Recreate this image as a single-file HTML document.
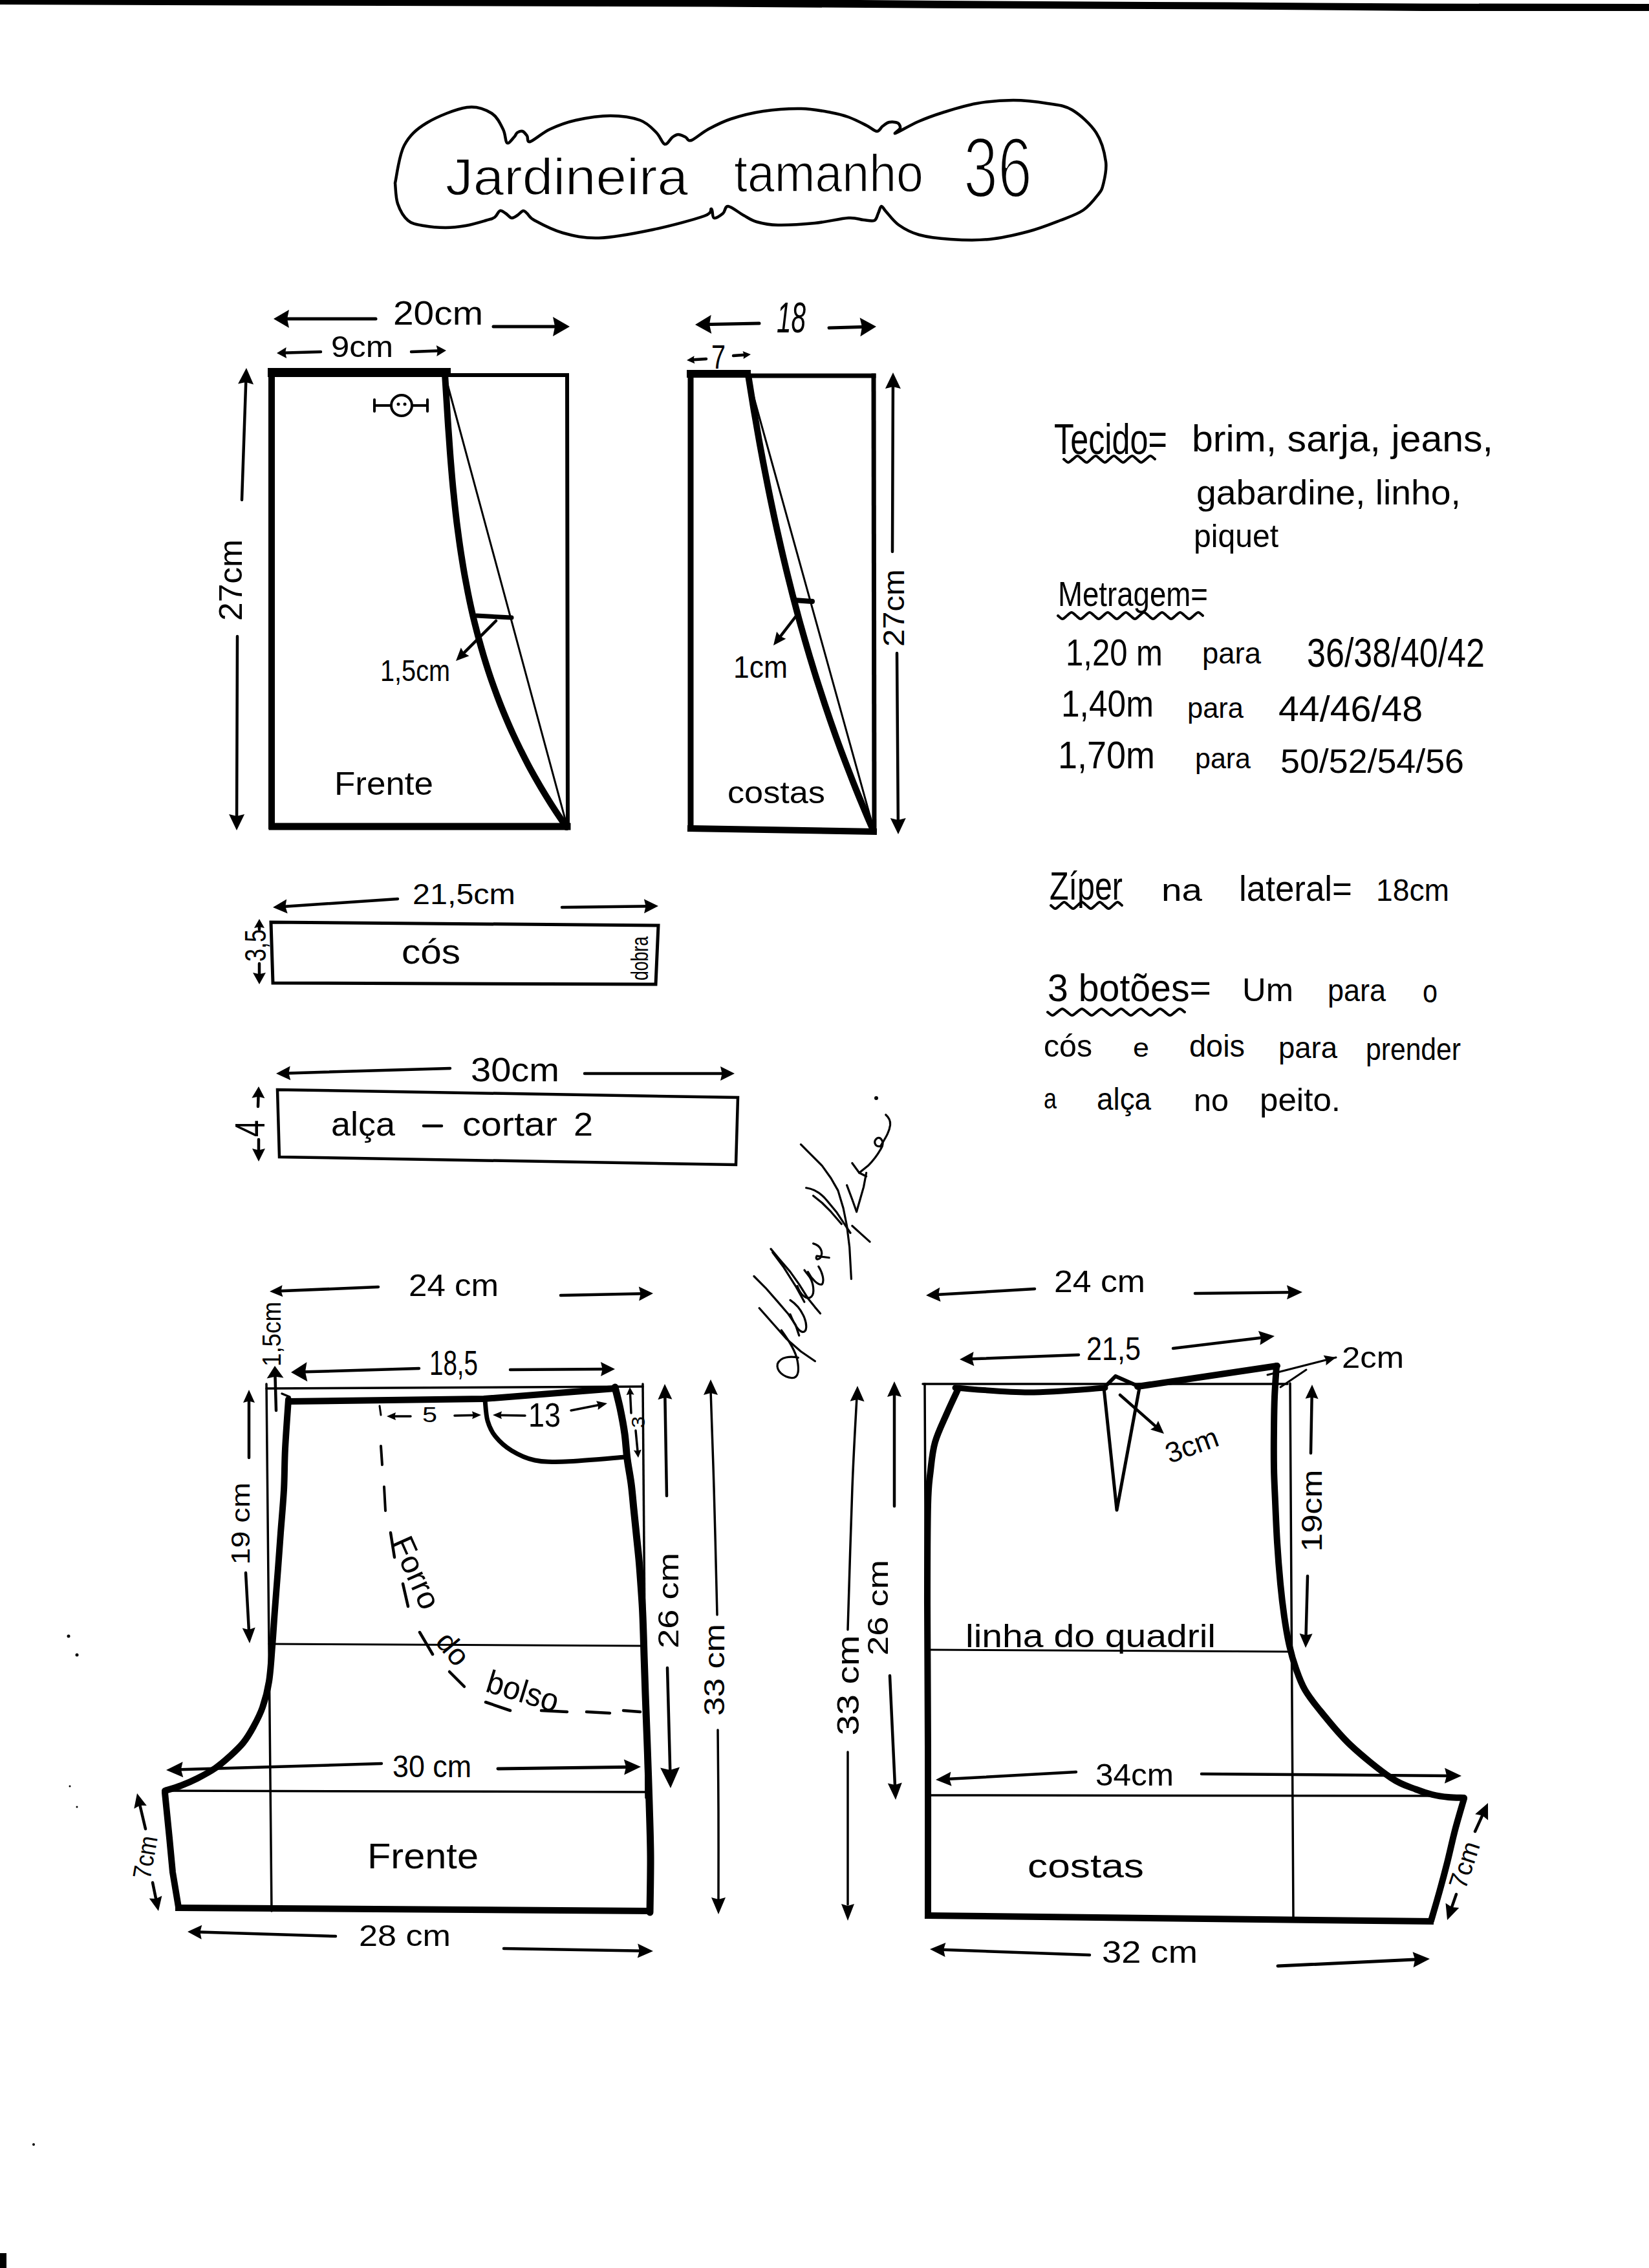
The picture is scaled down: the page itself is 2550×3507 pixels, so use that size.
<!DOCTYPE html>
<html><head><meta charset="utf-8"><style>
html,body{margin:0;padding:0;background:#fff;}
svg{display:block;}
text{fill:#000;stroke:none;}
</style></head><body>
<svg width="2550" height="3507" viewBox="0 0 2550 3507">
<rect width="2550" height="3507" fill="#fff"/>
<g stroke="#000" fill="none" stroke-linecap="round" stroke-linejoin="round">
<polygon points="0,0 1330,0 1450,1 1900,3.6 2200,5.5 2550,6 2550,17 2200,17 1900,14.5 1450,12.7 1100,10.6 400,8.5 0,7" fill="#000" stroke="none"/>
<path d="M611,283 C613.3,273.3 616.8,240.5 625,225 C633.2,209.5 643.8,199.8 660,190 C676.2,180.2 705.3,168.5 722,166 C738.7,163.5 750.7,169.3 760,175 C769.3,180.7 774.0,192.3 778,200 C782.0,207.7 781.2,219.0 784,221 C786.8,223.0 792.3,214.7 795,212 C797.7,209.3 797.8,206.5 800,205 C802.2,203.5 805.5,202.2 808,203 C810.5,203.8 813.0,207.3 815,210 C817.0,212.7 814.2,220.7 820,219 C825.8,217.3 838.3,205.5 850,200 C861.7,194.5 874.3,189.5 890,186 C905.7,182.5 927.3,179.0 944,179 C960.7,179.0 978.2,181.7 990,186 C1001.8,190.3 1008.7,198.8 1015,205 C1021.3,211.2 1023.8,221.8 1028,223 C1032.2,224.2 1036.5,214.5 1040,212 C1043.5,209.5 1045.7,208.0 1049,208 C1052.3,208.0 1056.7,210.5 1060,212 C1063.3,213.5 1063.2,219.0 1069,217 C1074.8,215.0 1084.8,205.5 1095,200 C1105.2,194.5 1115.8,188.7 1130,184 C1144.2,179.3 1161.8,174.7 1180,172 C1198.2,169.3 1221.5,167.7 1239,168 C1256.5,168.3 1272.8,171.8 1285,174 C1297.2,176.2 1302.8,177.7 1312,181 C1321.2,184.3 1332.7,190.3 1340,194 C1347.3,197.7 1351.8,202.8 1356,203 C1360.2,203.2 1361.8,197.3 1365,195 C1368.2,192.7 1371.2,189.8 1375,189 C1378.8,188.2 1385.2,188.5 1388,190 C1390.8,191.5 1392.5,195.3 1392,198 C1391.5,200.7 1380.3,207.7 1385,206 C1389.7,204.3 1407.8,193.3 1420,188 C1432.2,182.7 1443.0,178.7 1458,174 C1473.0,169.3 1491.8,163.2 1510,160 C1528.2,156.8 1548.7,155.0 1567,155 C1585.3,155.0 1604.8,157.5 1620,160 C1635.2,162.5 1645.5,162.5 1658,170 C1670.5,177.5 1686.3,191.7 1695,205 C1703.7,218.3 1708.2,236.7 1710,250 C1711.8,263.3 1708.0,276.5 1706,285 C1704.0,293.5 1703.2,294.3 1698,301 C1692.8,307.7 1684.8,318.3 1675,325 C1665.2,331.7 1653.2,335.5 1639,341 C1624.8,346.5 1608.2,353.2 1590,358 C1571.8,362.8 1550.0,368.0 1530,370 C1510.0,372.0 1488.2,371.2 1470,370 C1451.8,368.8 1434.3,366.7 1421,363 C1407.7,359.3 1398.5,354.0 1390,348 C1381.5,342.0 1374.5,331.8 1370,327 C1365.5,322.2 1365.0,318.5 1363,319 C1361.0,319.5 1359.8,326.3 1358,330 C1356.2,333.7 1355.8,339.3 1352,341 C1348.2,342.7 1341.7,340.7 1335,340 C1328.3,339.3 1324.5,336.2 1312,337 C1299.5,337.8 1278.2,343.2 1260,345 C1241.8,346.8 1218.0,348.3 1203,348 C1188.0,347.7 1178.8,345.5 1170,343 C1161.2,340.5 1157.3,337.0 1150,333 C1142.7,329.0 1131.3,319.5 1126,319 C1120.7,318.5 1121.7,327.0 1118,330 C1114.3,333.0 1107.0,338.2 1104,337 C1101.0,335.8 1102.5,323.5 1100,323 C1097.5,322.5 1104.0,328.7 1089,334 C1074.0,339.3 1037.2,349.3 1010,355 C982.8,360.7 949.3,367.2 926,368 C902.7,368.8 886.5,364.5 870,360 C853.5,355.5 836.2,346.0 827,341 C817.8,336.0 818.0,332.5 815,330 C812.0,327.5 811.5,325.5 809,326 C806.5,326.5 803.0,331.2 800,333 C797.0,334.8 794.0,337.5 791,337 C788.0,336.5 785.0,331.8 782,330 C779.0,328.2 775.8,325.0 773,326 C770.2,327.0 768.7,333.5 765,336 C761.3,338.5 758.5,338.8 751,341 C743.5,343.2 730.3,347.2 720,349 C709.7,350.8 699.8,352.0 689,352 C678.2,352.0 664.7,350.8 655,349 C645.3,347.2 637.7,346.7 631,341 C624.3,335.3 618.3,324.7 615,315 C611.7,305.3 611.7,288.3 611,283" stroke-width="4.5" fill="none" />
<text x="689" y="301" font-size="80" textLength="375" lengthAdjust="spacingAndGlyphs" font-family="Liberation Sans" style="stroke:#fff;stroke-width:1.40px">Jardineira</text>
<text x="1135" y="296" font-size="82" textLength="293" lengthAdjust="spacingAndGlyphs" font-family="Liberation Sans" style="stroke:#fff;stroke-width:1.56px">tamanho</text>
<text x="1490" y="305" font-size="132" textLength="106" lengthAdjust="spacingAndGlyphs" font-family="Liberation Sans" style="stroke:#fff;stroke-width:3.77px">36</text>
<line x1="420" y1="577" x2="420" y2="1277" stroke-width="10" stroke-linecap="square"/>
<line x1="421" y1="576" x2="690" y2="576" stroke-width="14" stroke-linecap="square"/>
<line x1="694" y1="580" x2="877" y2="580" stroke-width="6" stroke-linecap="square"/>
<line x1="877" y1="580" x2="878" y2="1280" stroke-width="6" stroke-linecap="square"/>
<line x1="421" y1="1278" x2="877" y2="1278" stroke-width="11" stroke-linecap="square"/>
<path d="M688.0,578.0 C688.2,582.0 689.0,594.2 689.5,602.2 C690.0,610.2 690.5,618.2 691.0,626.3 C691.5,634.3 692.0,642.4 692.5,650.5 C693.0,658.6 693.6,666.6 694.2,674.7 C694.8,682.8 695.3,690.9 695.9,698.9 C696.5,706.9 697.1,715.0 697.8,723.0 C698.5,731.0 699.1,739.1 699.9,747.2 C700.6,755.3 701.5,763.3 702.3,771.4 C703.1,779.5 704.0,787.5 704.9,795.6 C705.8,803.7 706.8,811.7 707.9,819.7 C709.0,827.8 710.0,835.8 711.2,843.9 C712.4,852.0 713.6,860.0 714.9,868.1 C716.2,876.2 717.5,884.2 719.0,892.2 C720.5,900.2 722.0,908.3 723.6,916.4 C725.2,924.5 726.9,932.5 728.7,940.6 C730.5,948.7 732.4,956.8 734.4,964.8 C736.4,972.8 738.5,980.8 740.7,988.9 C742.9,997.0 745.2,1005.0 747.6,1013.1 C750.0,1021.2 752.5,1029.2 755.1,1037.3 C757.7,1045.3 760.5,1053.4 763.4,1061.4 C766.3,1069.5 769.3,1077.5 772.4,1085.6 C775.5,1093.7 778.8,1101.7 782.2,1109.8 C785.6,1117.9 789.1,1126.0 792.8,1134.0 C796.5,1142.0 800.3,1150.0 804.3,1158.1 C808.3,1166.1 812.3,1174.2 816.6,1182.3 C820.9,1190.4 825.4,1198.4 830.0,1206.5 C834.6,1214.6 839.4,1222.7 844.3,1230.7 C849.2,1238.8 854.3,1246.8 859.6,1254.8 C864.9,1262.8 873.3,1275.0 876.0,1279.0" stroke-width="10" fill="none" />
<line x1="689" y1="583" x2="877" y2="1278" stroke-width="3"/>
<line x1="737" y1="952" x2="791" y2="955" stroke-width="7"/>
<line x1="767" y1="960" x2="712.0710678118655" y2="1014.9289321881345" stroke-width="4.5"/>
<polygon points="705,1022 712.8,1001.5 717.4,1009.6 725.5,1014.2" fill="#000" stroke="none"/>
<text x="588" y="1053" font-size="46" textLength="108" lengthAdjust="spacingAndGlyphs" font-family="Liberation Sans">1,5cm</text>
<text x="517" y="1229" font-size="50" textLength="153" lengthAdjust="spacingAndGlyphs" font-family="Liberation Sans">Frente</text>
<circle cx="621" cy="627" r="16" stroke-width="4"/>
<line x1="579" y1="627" x2="605" y2="627" stroke-width="4"/>
<line x1="637" y1="627" x2="661" y2="627" stroke-width="4"/>
<line x1="579" y1="618" x2="579" y2="636" stroke-width="4"/>
<line x1="661" y1="618" x2="661" y2="636" stroke-width="4"/>
<circle cx="616" cy="625" r="2.5" fill="#000" stroke="none"/><circle cx="626" cy="625" r="2.5" fill="#000" stroke="none"/>
<line x1="581" y1="493" x2="435.0" y2="493.0" stroke-width="5"/>
<polygon points="423,493 447.0,479.0 444.1,493.0 447.0,507.0" fill="#000" stroke="none"/>
<text x="608" y="502" font-size="52" textLength="139" lengthAdjust="spacingAndGlyphs" font-family="Liberation Sans">20cm</text>
<line x1="763" y1="505" x2="868.0" y2="505.0" stroke-width="5"/>
<polygon points="881,505 855.0,520.0 858.1,505.0 855.0,490.0" fill="#000" stroke="none"/>
<line x1="496" y1="544" x2="435.49675815848263" y2="545.7795071129858" stroke-width="4.5"/>
<polygon points="428,546 442.7,537.1 441.2,545.6 443.2,554.1" fill="#000" stroke="none"/>
<text x="512" y="552" font-size="46" textLength="96" lengthAdjust="spacingAndGlyphs" font-family="Liberation Sans">9cm</text>
<line x1="636" y1="544" x2="682.5051387467493" y2="542.2775874538241" stroke-width="4.5"/>
<polygon points="690,542 675.3,551.0 676.8,542.5 674.7,534.1" fill="#000" stroke="none"/>
<line x1="374" y1="773" x2="380.57133072154164" y2="581.4926475436437" stroke-width="4.5"/>
<polygon points="381,569 392.1,594.4 380.2,591.0 368.1,593.6" fill="#000" stroke="none"/>
<g transform="rotate(-90 357 897)"><text x="294.0" y="913.5" font-size="50" textLength="126" lengthAdjust="spacingAndGlyphs" font-family="Liberation Sans">27cm</text></g>
<line x1="367" y1="984" x2="366.0416664351871" y2="1271.5000694438656" stroke-width="4.5"/>
<polygon points="366,1284 354.1,1259.0 366.1,1262.0 378.1,1259.0" fill="#000" stroke="none"/>
<line x1="1068" y1="580" x2="1068" y2="1280" stroke-width="9" stroke-linecap="square"/>
<line x1="1068" y1="578" x2="1155" y2="578" stroke-width="12" stroke-linecap="square"/>
<line x1="1161" y1="581" x2="1351" y2="581" stroke-width="7" stroke-linecap="square"/>
<line x1="1351" y1="581" x2="1352" y2="1284" stroke-width="7" stroke-linecap="square"/>
<line x1="1068" y1="1281" x2="1351" y2="1286" stroke-width="10" stroke-linecap="square"/>
<path d="M1157.0,580.0 C1157.7,584.0 1159.6,596.1 1160.9,604.2 C1162.2,612.3 1163.5,620.4 1164.8,628.5 C1166.1,636.6 1167.6,644.6 1169.0,652.7 C1170.4,660.8 1171.8,668.9 1173.2,677.0 C1174.6,685.1 1176.1,693.1 1177.6,701.2 C1179.1,709.3 1180.6,717.3 1182.2,725.4 C1183.8,733.5 1185.4,741.6 1187.0,749.7 C1188.6,757.8 1190.2,765.8 1191.9,773.9 C1193.6,782.0 1195.3,790.1 1197.0,798.2 C1198.7,806.3 1200.5,814.3 1202.3,822.4 C1204.1,830.5 1205.9,838.6 1207.8,846.7 C1209.7,854.8 1211.6,862.8 1213.5,870.9 C1215.4,879.0 1217.4,887.0 1219.4,895.1 C1221.4,903.2 1223.4,911.3 1225.5,919.4 C1227.6,927.5 1229.7,935.5 1231.9,943.6 C1234.1,951.7 1236.2,959.8 1238.5,967.9 C1240.8,976.0 1243.1,984.0 1245.4,992.1 C1247.7,1000.2 1250.1,1008.2 1252.5,1016.3 C1254.9,1024.4 1257.4,1032.5 1259.9,1040.6 C1262.4,1048.7 1265.0,1056.7 1267.6,1064.8 C1270.2,1072.9 1272.8,1081.0 1275.5,1089.1 C1278.2,1097.2 1280.9,1105.2 1283.7,1113.3 C1286.5,1121.4 1289.3,1129.5 1292.2,1137.6 C1295.1,1145.7 1298.0,1153.7 1301.0,1161.8 C1304.0,1169.9 1307.1,1177.9 1310.2,1186.0 C1313.3,1194.1 1316.4,1202.2 1319.6,1210.3 C1322.8,1218.4 1326.1,1226.4 1329.4,1234.5 C1332.7,1242.6 1336.1,1250.7 1339.5,1258.8 C1342.9,1266.9 1348.2,1279.0 1350.0,1283.0" stroke-width="10" fill="none" />
<line x1="1157" y1="583" x2="1351" y2="1282" stroke-width="3"/>
<line x1="1228" y1="928" x2="1256" y2="930" stroke-width="8"/>
<line x1="1233" y1="950" x2="1202.105078603393" y2="990.0798980280307" stroke-width="4.5"/>
<polygon points="1196,998 1201.1,976.7 1206.7,984.1 1215.3,987.7" fill="#000" stroke="none"/>
<text x="1134" y="1048" font-size="48" textLength="84" lengthAdjust="spacingAndGlyphs" font-family="Liberation Sans">1cm</text>
<text x="1125" y="1242" font-size="48" textLength="151" lengthAdjust="spacingAndGlyphs" font-family="Liberation Sans">costas</text>
<line x1="1174" y1="500" x2="1087.4974500203732" y2="501.7475262622147" stroke-width="5"/>
<polygon points="1075,502 1099.7,487.0 1097.0,501.6 1100.3,516.0" fill="#000" stroke="none"/>
<text x="1201" y="514" font-size="66" textLength="45" lengthAdjust="spacingAndGlyphs" font-family="Liberation Sans" font-style="italic">18</text>
<line x1="1282" y1="507" x2="1342.504688672333" y2="505.3423372966484" stroke-width="5"/>
<polygon points="1355,505 1330.4,520.2 1333.0,505.6 1329.6,491.2" fill="#000" stroke="none"/>
<line x1="1092" y1="555" x2="1067.9867109471397" y2="556.6008859368574" stroke-width="4.5"/>
<polygon points="1062,557 1073.6,550.2 1072.5,556.3 1074.4,562.2" fill="#000" stroke="none"/>
<text x="1100" y="570" font-size="52" textLength="22" lengthAdjust="spacingAndGlyphs" font-family="Liberation Sans">7</text>
<line x1="1134" y1="550" x2="1155.0163934732598" y2="548.4432301130919" stroke-width="4.5"/>
<polygon points="1161,548 1149.5,554.9 1150.5,548.8 1148.6,542.9" fill="#000" stroke="none"/>
<line x1="1380" y1="853" x2="1380.9548739402696" y2="588.4999185452839" stroke-width="4.5"/>
<polygon points="1381,576 1392.9,601.0 1380.9,598.0 1368.9,601.0" fill="#000" stroke="none"/>
<g transform="rotate(-90 1383 940)"><text x="1323.0" y="955.18" font-size="46" textLength="120" lengthAdjust="spacingAndGlyphs" font-family="Liberation Sans">27cm</text></g>
<line x1="1387" y1="1010" x2="1388.9107165633238" y2="1277.5003188653495" stroke-width="4.5"/>
<polygon points="1389,1290 1376.8,1265.1 1388.8,1268.0 1400.8,1264.9" fill="#000" stroke="none"/>
<polygon points="419,1426 1018,1431 1014,1522 422,1520" stroke-width="5" fill="none" stroke-linejoin="miter"/>
<line x1="615" y1="1390" x2="432.9751309020129" y2="1402.2607424781027" stroke-width="4.5"/>
<polygon points="422,1403 443.2,1390.5 441.3,1401.7 444.7,1412.5" fill="#000" stroke="none"/>
<text x="638" y="1398" font-size="44" textLength="159" lengthAdjust="spacingAndGlyphs" font-family="Liberation Sans">21,5cm</text>
<line x1="869" y1="1403" x2="1007.0009908124682" y2="1401.1476377072152" stroke-width="4.5"/>
<polygon points="1018,1401 996.1,1412.3 998.6,1401.3 995.9,1390.3" fill="#000" stroke="none"/>
<line x1="401" y1="1437" x2="401.0" y2="1428.0" stroke-width="4.5"/>
<polygon points="401,1421 409.0,1435.0 401.0,1433.3 393.0,1435.0" fill="#000" stroke="none"/>
<line x1="401" y1="1490" x2="401.0" y2="1513.0" stroke-width="4.5"/>
<polygon points="401,1522 391.0,1504.0 401.0,1506.2 411.0,1504.0" fill="#000" stroke="none"/>
<g transform="rotate(-90 396 1462)"><text x="371.0" y="1477.18" font-size="46" textLength="50" lengthAdjust="spacingAndGlyphs" font-family="Liberation Sans">3,5</text></g>
<text x="621" y="1490" font-size="54" textLength="91" lengthAdjust="spacingAndGlyphs" font-family="Liberation Sans">cós</text>
<g transform="rotate(-90 990 1482)"><text x="956.0" y="1493.88" font-size="36" textLength="68" lengthAdjust="spacingAndGlyphs" font-family="Liberation Sans">dobra</text></g>
<polygon points="429,1685 1141,1697 1138,1801 432,1789" stroke-width="4.5" fill="none" stroke-linejoin="miter"/>
<line x1="696" y1="1652" x2="437.9951387256116" y2="1659.6730070267477" stroke-width="4.5"/>
<polygon points="427,1660 448.7,1648.4 446.4,1659.4 449.3,1670.3" fill="#000" stroke="none"/>
<text x="728" y="1672" font-size="52" textLength="137" lengthAdjust="spacingAndGlyphs" font-family="Liberation Sans">30cm</text>
<line x1="904" y1="1660" x2="1125.0" y2="1660.0" stroke-width="4.5"/>
<polygon points="1136,1660 1114.0,1671.0 1116.6,1660.0 1114.0,1649.0" fill="#000" stroke="none"/>
<line x1="399" y1="1711" x2="399.7098283539014" y2="1688.9953210290573" stroke-width="4.5"/>
<polygon points="400,1680 409.4,1698.3 399.5,1695.8 389.4,1697.7" fill="#000" stroke="none"/>
<line x1="400" y1="1762" x2="400.0" y2="1786.0" stroke-width="4.5"/>
<polygon points="400,1796 390.0,1776.0 400.0,1778.4 410.0,1776.0" fill="#000" stroke="none"/>
<g transform="rotate(-90 388 1745)"><text x="375.0" y="1766.12" font-size="64" textLength="26" lengthAdjust="spacingAndGlyphs" font-family="Liberation Sans">4</text></g>
<text x="512" y="1756" font-size="52" textLength="99" lengthAdjust="spacingAndGlyphs" font-family="Liberation Sans">alça</text>
<line x1="655" y1="1741" x2="683" y2="1741" stroke-width="4.5"/>
<text x="715" y="1756" font-size="52" textLength="147" lengthAdjust="spacingAndGlyphs" font-family="Liberation Sans">cortar</text>
<text x="887" y="1756" font-size="50" textLength="30" lengthAdjust="spacingAndGlyphs" font-family="Liberation Sans">2</text>
<text x="1630" y="702" font-size="66" textLength="175" lengthAdjust="spacingAndGlyphs" font-family="Liberation Sans">Tecido=</text>
<text x="1843" y="698" font-size="58" textLength="466" lengthAdjust="spacingAndGlyphs" font-family="Liberation Sans">brim, sarja, jeans,</text>
<text x="1850" y="780" font-size="54" textLength="409" lengthAdjust="spacingAndGlyphs" font-family="Liberation Sans">gabardine, linho,</text>
<text x="1846" y="846" font-size="50" textLength="131" lengthAdjust="spacingAndGlyphs" font-family="Liberation Sans">piquet</text>
<text x="1636" y="937" font-size="54" textLength="232" lengthAdjust="spacingAndGlyphs" font-family="Liberation Sans">Metragem=</text>
<text x="1648" y="1029" font-size="58" textLength="150" lengthAdjust="spacingAndGlyphs" font-family="Liberation Sans">1,20 m</text>
<text x="1859" y="1026" font-size="46" textLength="91" lengthAdjust="spacingAndGlyphs" font-family="Liberation Sans">para</text>
<text x="2021" y="1031" font-size="63" textLength="275" lengthAdjust="spacingAndGlyphs" font-family="Liberation Sans">36/38/40/42</text>
<text x="1641" y="1108" font-size="58" textLength="143" lengthAdjust="spacingAndGlyphs" font-family="Liberation Sans">1,40m</text>
<text x="1836" y="1110" font-size="44" textLength="87" lengthAdjust="spacingAndGlyphs" font-family="Liberation Sans">para</text>
<text x="1977" y="1115" font-size="56" textLength="223" lengthAdjust="spacingAndGlyphs" font-family="Liberation Sans">44/46/48</text>
<text x="1636" y="1188" font-size="60" textLength="150" lengthAdjust="spacingAndGlyphs" font-family="Liberation Sans">1,70m</text>
<text x="1848" y="1188" font-size="44" textLength="86" lengthAdjust="spacingAndGlyphs" font-family="Liberation Sans">para</text>
<text x="1980" y="1195" font-size="52" textLength="284" lengthAdjust="spacingAndGlyphs" font-family="Liberation Sans">50/52/54/56</text>
<text x="1623" y="1391" font-size="62" textLength="113" lengthAdjust="spacingAndGlyphs" font-family="Liberation Sans">Zíper</text>
<text x="1796" y="1393" font-size="48" textLength="63" lengthAdjust="spacingAndGlyphs" font-family="Liberation Sans">na</text>
<text x="1916" y="1393" font-size="56" textLength="175" lengthAdjust="spacingAndGlyphs" font-family="Liberation Sans">lateral=</text>
<text x="2128" y="1393" font-size="48" textLength="113" lengthAdjust="spacingAndGlyphs" font-family="Liberation Sans">18cm</text>
<text x="1620" y="1548" font-size="60" textLength="253" lengthAdjust="spacingAndGlyphs" font-family="Liberation Sans">3 botões=</text>
<text x="1921" y="1548" font-size="50" textLength="79" lengthAdjust="spacingAndGlyphs" font-family="Liberation Sans">Um</text>
<text x="2053" y="1548" font-size="48" textLength="90" lengthAdjust="spacingAndGlyphs" font-family="Liberation Sans">para</text>
<text x="2200" y="1550" font-size="50" textLength="23" lengthAdjust="spacingAndGlyphs" font-family="Liberation Sans">o</text>
<text x="1614" y="1634" font-size="48" textLength="75" lengthAdjust="spacingAndGlyphs" font-family="Liberation Sans">cós</text>
<text x="1752" y="1634" font-size="40" textLength="25" lengthAdjust="spacingAndGlyphs" font-family="Liberation Sans">e</text>
<text x="1839" y="1634" font-size="48" textLength="86" lengthAdjust="spacingAndGlyphs" font-family="Liberation Sans">dois</text>
<text x="1977" y="1636" font-size="46" textLength="91" lengthAdjust="spacingAndGlyphs" font-family="Liberation Sans">para</text>
<text x="2112" y="1639" font-size="48" textLength="147" lengthAdjust="spacingAndGlyphs" font-family="Liberation Sans">prender</text>
<text x="1614" y="1714" font-size="44" textLength="20" lengthAdjust="spacingAndGlyphs" font-family="Liberation Sans">a</text>
<text x="1696" y="1716" font-size="48" textLength="84" lengthAdjust="spacingAndGlyphs" font-family="Liberation Sans">alça</text>
<text x="1846" y="1718" font-size="48" textLength="54" lengthAdjust="spacingAndGlyphs" font-family="Liberation Sans">no</text>
<text x="1948" y="1718" font-size="50" textLength="125" lengthAdjust="spacingAndGlyphs" font-family="Liberation Sans">peito.</text>
<path d="M1645.0,710.0 C1646.2,710.8 1649.7,715.0 1652.0,715.0 C1654.3,715.0 1656.7,711.7 1659.1,710.0 C1661.5,708.3 1663.8,705.0 1666.2,705.0 C1668.6,705.0 1670.9,708.3 1673.2,710.0 C1675.5,711.7 1677.9,715.0 1680.2,715.0 C1682.5,715.0 1685.0,711.7 1687.3,710.0 C1689.6,708.3 1691.9,705.0 1694.3,705.0 C1696.7,705.0 1699.0,708.3 1701.4,710.0 C1703.8,711.7 1706.2,715.0 1708.5,715.0 C1710.8,715.0 1713.2,711.7 1715.5,710.0 C1717.8,708.3 1720.2,705.0 1722.5,705.0 C1724.8,705.0 1727.2,708.3 1729.6,710.0 C1732.0,711.7 1734.3,715.0 1736.7,715.0 C1739.1,715.0 1741.4,711.7 1743.7,710.0 C1746.0,708.3 1748.5,705.0 1750.8,705.0 C1753.1,705.0 1755.5,708.3 1757.8,710.0 C1760.1,711.7 1762.4,715.0 1764.8,715.0 C1767.2,715.0 1769.5,711.7 1771.9,710.0 C1774.3,708.3 1776.7,705.0 1779.0,705.0 C1781.3,705.0 1784.8,709.2 1786.0,710.0" stroke-width="4" fill="none" />
<path d="M1636.0,952.0 C1637.2,952.8 1640.7,957.0 1643.0,957.0 C1645.3,957.0 1647.7,953.7 1650.0,952.0 C1652.3,950.3 1654.7,947.0 1657.0,947.0 C1659.3,947.0 1661.7,950.3 1664.0,952.0 C1666.3,953.7 1668.7,957.0 1671.0,957.0 C1673.3,957.0 1675.7,953.7 1678.0,952.0 C1680.3,950.3 1682.7,947.0 1685.0,947.0 C1687.3,947.0 1689.7,950.3 1692.0,952.0 C1694.3,953.7 1696.7,957.0 1699.0,957.0 C1701.3,957.0 1703.7,953.7 1706.0,952.0 C1708.3,950.3 1710.7,947.0 1713.0,947.0 C1715.3,947.0 1717.7,950.3 1720.0,952.0 C1722.3,953.7 1724.7,957.0 1727.0,957.0 C1729.3,957.0 1731.7,953.7 1734.0,952.0 C1736.3,950.3 1738.7,947.0 1741.0,947.0 C1743.3,947.0 1745.7,950.3 1748.0,952.0 C1750.3,953.7 1752.7,957.0 1755.0,957.0 C1757.3,957.0 1759.7,953.7 1762.0,952.0 C1764.3,950.3 1766.7,947.0 1769.0,947.0 C1771.3,947.0 1773.7,950.3 1776.0,952.0 C1778.3,953.7 1780.7,957.0 1783.0,957.0 C1785.3,957.0 1787.7,953.7 1790.0,952.0 C1792.3,950.3 1794.7,947.0 1797.0,947.0 C1799.3,947.0 1801.7,950.3 1804.0,952.0 C1806.3,953.7 1808.7,957.0 1811.0,957.0 C1813.3,957.0 1815.7,953.7 1818.0,952.0 C1820.3,950.3 1822.7,947.0 1825.0,947.0 C1827.3,947.0 1829.7,950.3 1832.0,952.0 C1834.3,953.7 1836.7,957.0 1839.0,957.0 C1841.3,957.0 1843.7,953.7 1846.0,952.0 C1848.3,950.3 1850.7,947.0 1853.0,947.0 C1855.3,947.0 1858.8,951.2 1860.0,952.0" stroke-width="4" fill="none" />
<path d="M1625.0,1400.0 C1626.2,1400.8 1629.6,1405.0 1631.9,1405.0 C1634.2,1405.0 1636.5,1401.7 1638.8,1400.0 C1641.1,1398.3 1643.3,1395.0 1645.6,1395.0 C1647.9,1395.0 1650.2,1398.3 1652.5,1400.0 C1654.8,1401.7 1657.1,1405.0 1659.4,1405.0 C1661.7,1405.0 1663.9,1401.7 1666.2,1400.0 C1668.5,1398.3 1670.8,1395.0 1673.1,1395.0 C1675.4,1395.0 1677.7,1398.3 1680.0,1400.0 C1682.3,1401.7 1684.6,1405.0 1686.9,1405.0 C1689.2,1405.0 1691.5,1401.7 1693.8,1400.0 C1696.1,1398.3 1698.3,1395.0 1700.6,1395.0 C1702.9,1395.0 1705.2,1398.3 1707.5,1400.0 C1709.8,1401.7 1712.1,1405.0 1714.4,1405.0 C1716.7,1405.0 1718.9,1401.7 1721.2,1400.0 C1723.5,1398.3 1725.8,1395.0 1728.1,1395.0 C1730.4,1395.0 1733.8,1399.2 1735.0,1400.0" stroke-width="4" fill="none" />
<path d="M1620.0,1565.0 C1621.3,1565.8 1625.1,1570.0 1627.6,1570.0 C1630.1,1570.0 1632.6,1566.7 1635.1,1565.0 C1637.6,1563.3 1640.2,1560.0 1642.7,1560.0 C1645.2,1560.0 1647.8,1563.3 1650.3,1565.0 C1652.8,1566.7 1655.4,1570.0 1657.9,1570.0 C1660.4,1570.0 1662.9,1566.7 1665.4,1565.0 C1667.9,1563.3 1670.5,1560.0 1673.0,1560.0 C1675.5,1560.0 1678.1,1563.3 1680.6,1565.0 C1683.1,1566.7 1685.6,1570.0 1688.1,1570.0 C1690.6,1570.0 1693.2,1566.7 1695.7,1565.0 C1698.2,1563.3 1700.8,1560.0 1703.3,1560.0 C1705.8,1560.0 1708.4,1563.3 1710.9,1565.0 C1713.4,1566.7 1715.9,1570.0 1718.4,1570.0 C1720.9,1570.0 1723.5,1566.7 1726.0,1565.0 C1728.5,1563.3 1731.1,1560.0 1733.6,1560.0 C1736.1,1560.0 1738.6,1563.3 1741.1,1565.0 C1743.6,1566.7 1746.2,1570.0 1748.7,1570.0 C1751.2,1570.0 1753.8,1566.7 1756.3,1565.0 C1758.8,1563.3 1761.4,1560.0 1763.9,1560.0 C1766.4,1560.0 1768.9,1563.3 1771.4,1565.0 C1773.9,1566.7 1776.5,1570.0 1779.0,1570.0 C1781.5,1570.0 1784.1,1566.7 1786.6,1565.0 C1789.1,1563.3 1791.6,1560.0 1794.1,1560.0 C1796.6,1560.0 1799.2,1563.3 1801.7,1565.0 C1804.2,1566.7 1806.8,1570.0 1809.3,1570.0 C1811.8,1570.0 1814.4,1566.7 1816.9,1565.0 C1819.4,1563.3 1821.9,1560.0 1824.4,1560.0 C1826.9,1560.0 1830.7,1564.2 1832.0,1565.0" stroke-width="4" fill="none" />
<line x1="585" y1="1990" x2="426.9913307309235" y2="1996.5836945528781" stroke-width="4.5"/>
<polygon points="417,1997 436.6,1987.2 434.6,1996.3 437.4,2005.2" fill="#000" stroke="none"/>
<text x="632" y="2004" font-size="48" textLength="139" lengthAdjust="spacingAndGlyphs" font-family="Liberation Sans">24 cm</text>
<line x1="867" y1="2003" x2="999.0024198575265" y2="2000.2307184645274" stroke-width="4.5"/>
<polygon points="1010,2000 988.2,2011.5 990.6,2000.4 987.8,1989.5" fill="#000" stroke="none"/>
<g transform="rotate(-90 421 2063)"><text x="371.0" y="2076.2" font-size="40" textLength="100" lengthAdjust="spacingAndGlyphs" font-family="Liberation Sans">1,5cm</text></g>
<line x1="427" y1="2181" x2="425.27524671752616" y2="2121.496011754652" stroke-width="4.5"/>
<polygon points="425,2112 438.5,2130.6 425.5,2128.7 412.6,2131.4" fill="#000" stroke="none"/>
<line x1="436" y1="2155" x2="448" y2="2160" stroke-width="3.5"/>
<line x1="648" y1="2116" x2="462.49426473931726" y2="2121.62138591699" stroke-width="4.5"/>
<polygon points="450,2122 474.5,2106.2 472.0,2121.3 475.4,2136.2" fill="#000" stroke="none"/>
<text x="664" y="2126" font-size="54" textLength="75" lengthAdjust="spacingAndGlyphs" font-family="Liberation Sans">18,5</text>
<line x1="789" y1="2118" x2="940.0002095657227" y2="2117.0678999409524" stroke-width="4.5"/>
<polygon points="951,2117 929.1,2128.1 931.6,2117.1 928.9,2106.1" fill="#000" stroke="none"/>
<line x1="412" y1="2147" x2="994" y2="2144" stroke-width="3.5"/>
<line x1="412" y1="2140" x2="420" y2="2955" stroke-width="3.5"/>
<line x1="994" y1="2140" x2="999" y2="2780" stroke-width="3.5"/>
<polyline points="446,2167 748,2163 951,2147" stroke-width="10" fill="none" stroke-linejoin="miter"/>
<path d="M446,2164 C445.2,2176.7 442.2,2216.7 441,2240 C439.8,2263.3 440.2,2282.3 439,2304 C437.8,2325.7 435.5,2349.8 434,2370 C432.5,2390.2 431.5,2405.0 430,2425 C428.5,2445.0 426.5,2469.8 425,2490 C423.5,2510.2 422.5,2527.7 421,2546 C419.5,2564.3 418.5,2584.3 416,2600 C413.5,2615.7 410.0,2628.3 406,2640 C402.0,2651.7 397.0,2660.8 392,2670 C387.0,2679.2 382.2,2687.3 376,2695 C369.8,2702.7 362.2,2709.5 355,2716 C347.8,2722.5 341.3,2728.3 333,2734 C324.7,2739.7 313.8,2745.5 305,2750 C296.2,2754.5 288.3,2757.8 280,2761 C271.7,2764.2 259.2,2767.7 255,2769" stroke-width="10" fill="none" />
<polyline points="255,2772 262,2842 267,2895 276,2949" stroke-width="10" fill="none"/>
<path d="M951,2145 C952.3,2150.5 956.5,2166.0 959,2178 C961.5,2190.0 964.2,2204.0 966,2217 C967.8,2230.0 968.3,2243.2 970,2256 C971.7,2268.8 974.3,2281.2 976,2294 C977.7,2306.8 978.7,2320.0 980,2333 C981.3,2346.0 982.7,2359.0 984,2372 C985.3,2385.0 986.8,2398.0 988,2411 C989.2,2424.0 990.1,2437.2 991,2450 C991.9,2462.8 992.8,2475.2 993.5,2488 C994.2,2500.8 994.6,2515.0 995,2527 C995.4,2539.0 995.5,2544.5 996,2560 C996.5,2575.5 997.2,2596.7 998,2620 C998.8,2643.3 1000.0,2671.8 1001,2700 C1002.0,2728.2 1003.2,2760.7 1004,2789 C1004.8,2817.3 1005.8,2842.0 1006,2870 C1006.2,2898.0 1005.2,2942.5 1005,2957" stroke-width="11" fill="none" />
<line x1="276" y1="2950" x2="1005" y2="2955" stroke-width="10" stroke-linecap="square"/>
<path d="M750,2165 C750.7,2170.3 751.3,2187.7 754,2197 C756.7,2206.3 759.8,2213.3 766,2221 C772.2,2228.7 780.8,2236.8 791,2243 C801.2,2249.2 813.0,2255.2 827,2258 C841.0,2260.8 851.8,2260.8 875,2260 C898.2,2259.2 950.8,2254.2 966,2253" stroke-width="7" fill="none" />
<line x1="587" y1="2174" x2="589" y2="2188" stroke-width="3"/>
<line x1="635" y1="2190" x2="605.0" y2="2190.0" stroke-width="3.5"/>
<polygon points="598,2190 612.0,2184.0 610.3,2190.0 612.0,2196.0" fill="#000" stroke="none"/>
<text x="653" y="2199" font-size="34" textLength="23" lengthAdjust="spacingAndGlyphs" font-family="Liberation Sans">5</text>
<line x1="703" y1="2189" x2="737.0020811654987" y2="2188.170680947183" stroke-width="3.5"/>
<polygon points="744,2188 730.2,2194.3 731.7,2188.3 729.9,2182.3" fill="#000" stroke="none"/>
<line x1="812" y1="2189" x2="768.99860041986" y2="2188.1399720083973" stroke-width="3.5"/>
<polygon points="762,2188 776.1,2182.3 774.3,2188.2 775.9,2194.3" fill="#000" stroke="none"/>
<text x="817" y="2206" font-size="52" textLength="50" lengthAdjust="spacingAndGlyphs" font-family="Liberation Sans">13</text>
<line x1="883" y1="2181" x2="931.1500094358313" y2="2171.5419624322476" stroke-width="3.5"/>
<polygon points="939,2170 924.6,2180.0 925.2,2172.7 922.0,2166.2" fill="#000" stroke="none"/>
<line x1="976" y1="2185" x2="974.2996257016633" y2="2150.992514033267" stroke-width="3.5"/>
<polygon points="974,2145 980.6,2156.7 974.5,2155.5 968.6,2157.3" fill="#000" stroke="none"/>
<line x1="983" y1="2212" x2="986.431145444232" y2="2248.0270271644363" stroke-width="3.5"/>
<polygon points="987,2254 979.9,2242.6 986.0,2243.5 991.8,2241.5" fill="#000" stroke="none"/>
<g transform="rotate(-90 987 2199)"><text x="978.0" y="2208.9" font-size="30" textLength="18" lengthAdjust="spacingAndGlyphs" font-family="Liberation Sans">3</text></g>
<line x1="589" y1="2236" x2="591" y2="2265" stroke-width="4"/>
<line x1="594" y1="2299" x2="596" y2="2336" stroke-width="4"/>
<line x1="416" y1="2542" x2="994" y2="2545" stroke-width="3"/>
<line x1="256" y1="2769" x2="999" y2="2771" stroke-width="3.5"/>
<line x1="385" y1="2254" x2="385.0" y2="2159.0" stroke-width="4.5"/>
<polygon points="385,2149 394.0,2169.0 385.0,2166.6 376.0,2169.0" fill="#000" stroke="none"/>
<g transform="rotate(-90 373 2356)"><text x="309.5" y="2369.2" font-size="40" textLength="127" lengthAdjust="spacingAndGlyphs" font-family="Liberation Sans">19 cm</text></g>
<line x1="380" y1="2432" x2="385.34044802256204" y2="2529.0181390765433" stroke-width="4.5"/>
<polygon points="386,2541 374.7,2517.6 384.8,2519.9 394.7,2516.5" fill="#000" stroke="none"/>
<line x1="1031" y1="2313" x2="1028.208061204683" y2="2151.998196136716" stroke-width="4.5"/>
<polygon points="1028,2140 1039.4,2163.8 1028.4,2161.1 1017.4,2164.2" fill="#000" stroke="none"/>
<g transform="rotate(-90 1034 2475)"><text x="960.0" y="2489.52" font-size="44" textLength="148" lengthAdjust="spacingAndGlyphs" font-family="Liberation Sans">26 cm</text></g>
<line x1="1032" y1="2579" x2="1036.5700477925777" y2="2749.005777883894" stroke-width="4.5"/>
<polygon points="1037,2765 1021.1,2733.4 1036.2,2736.9 1051.1,2732.6" fill="#000" stroke="none"/>
<polygon points="1099,2133 1110.0,2157.0 1099.0,2154.1 1088.0,2157.0" fill="#000" stroke="none"/>
<path d="M1099,2150 C1099.8,2175.0 1102.3,2242.2 1104,2300 C1105.7,2357.8 1108.2,2464.2 1109,2497" stroke-width="3.5" fill="none" />
<g transform="rotate(-90 1105 2582)"><text x="1034.0" y="2596.52" font-size="44" textLength="142" lengthAdjust="spacingAndGlyphs" font-family="Liberation Sans">33 cm</text></g>
<path d="M1110,2675 C1110.2,2695.8 1110.8,2755.8 1111,2800 C1111.2,2844.2 1111.0,2916.7 1111,2940" stroke-width="3.5" fill="none" />
<polygon points="1111,2960 1100.0,2934.0 1111.0,2937.1 1122.0,2934.0" fill="#000" stroke="none"/>
<g transform="rotate(66 643 2432)"><text x="584.0" y="2447.84" font-size="48" textLength="118" lengthAdjust="spacingAndGlyphs" font-family="Liberation Sans">Forro</text></g>
<g transform="rotate(50 700 2550)"><text x="674.0" y="2565.18" font-size="46" textLength="52" lengthAdjust="spacingAndGlyphs" font-family="Liberation Sans">do</text></g>
<g transform="rotate(17 807 2617)"><text x="751" y="2632" font-size="50" textLength="114" lengthAdjust="spacingAndGlyphs" font-family="Liberation Sans">bolso</text></g>
<line x1="604" y1="2370" x2="610" y2="2408" stroke-width="4.5"/>
<line x1="623" y1="2449" x2="631" y2="2484" stroke-width="4.5"/>
<line x1="649" y1="2524" x2="669" y2="2558" stroke-width="4.5"/>
<line x1="695" y1="2585" x2="718" y2="2608" stroke-width="4.5"/>
<line x1="751" y1="2632" x2="789" y2="2645" stroke-width="4.5"/>
<line x1="837" y1="2645" x2="877" y2="2647" stroke-width="4.5"/>
<line x1="907" y1="2647" x2="943" y2="2649" stroke-width="4.5"/>
<line x1="964" y1="2645" x2="990" y2="2647" stroke-width="4.5"/>
<line x1="590" y1="2727" x2="269.9941422440341" y2="2736.609785518197" stroke-width="4.5"/>
<polygon points="257,2737 282.6,2724.2 279.9,2736.3 283.3,2748.2" fill="#000" stroke="none"/>
<text x="607" y="2748" font-size="48" textLength="122" lengthAdjust="spacingAndGlyphs" font-family="Liberation Sans">30 cm</text>
<line x1="770" y1="2735" x2="978.0011975986637" y2="2732.1764543312397" stroke-width="5"/>
<polygon points="991,2732 965.2,2744.4 968.1,2732.3 964.8,2720.4" fill="#000" stroke="none"/>
<line x1="225" y1="2828" x2="214.53027999321867" y2="2783.7050307405407" stroke-width="4.5"/>
<polygon points="212,2773 226.8,2792.1 216.5,2791.8 207.3,2796.7" fill="#000" stroke="none"/>
<g transform="rotate(-80 225 2872)"><text x="191.5" y="2885.2" font-size="40" textLength="67" lengthAdjust="spacingAndGlyphs" font-family="Liberation Sans">7cm</text></g>
<line x1="236" y1="2911" x2="242.79564140236423" y2="2944.223135744892" stroke-width="4.5"/>
<polygon points="245,2955 230.8,2935.5 241.1,2936.0 250.4,2931.4" fill="#000" stroke="none"/>
<text x="568" y="2889" font-size="55" textLength="172" lengthAdjust="spacingAndGlyphs" font-family="Liberation Sans">Frente</text>
<line x1="519" y1="2994" x2="300.9948644899088" y2="2987.336087560827" stroke-width="4.5"/>
<polygon points="290,2987 312.3,2976.7 309.4,2987.6 311.7,2998.7" fill="#000" stroke="none"/>
<text x="555" y="3009" font-size="46" textLength="142" lengthAdjust="spacingAndGlyphs" font-family="Liberation Sans">28 cm</text>
<line x1="779" y1="3013" x2="998.001798662255" y2="3016.7922389378746" stroke-width="4.5"/>
<polygon points="1010,3017 985.8,3027.6 988.9,3016.6 986.2,3005.6" fill="#000" stroke="none"/>
<line x1="1600" y1="1993" x2="1442.980564669083" y2="2002.3463949601737" stroke-width="4.5"/>
<polygon points="1432,2003 1453.3,1990.7 1451.3,2001.8 1454.6,2012.7" fill="#000" stroke="none"/>
<text x="1630" y="1998" font-size="48" textLength="141" lengthAdjust="spacingAndGlyphs" font-family="Liberation Sans">24 cm</text>
<line x1="1848" y1="2000" x2="2002.0008708588857" y2="1998.1445678209773" stroke-width="4.5"/>
<polygon points="2014,1998 1990.1,2009.3 1992.9,1998.3 1989.9,1987.3" fill="#000" stroke="none"/>
<line x1="1668" y1="2095" x2="1494.9920484459" y2="2101.581824243906" stroke-width="4.5"/>
<polygon points="1484,2102 1505.6,2090.2 1503.3,2101.3 1506.4,2112.2" fill="#000" stroke="none"/>
<text x="1680" y="2103" font-size="50" textLength="84" lengthAdjust="spacingAndGlyphs" font-family="Liberation Sans">21,5</text>
<line x1="1814" y1="2085" x2="1959.0869201542407" y2="2067.4417102998054" stroke-width="4.5"/>
<polygon points="1971,2066 1948.5,2079.8 1950.0,2068.5 1945.9,2058.0" fill="#000" stroke="none"/>
<line x1="1427" y1="2140" x2="1991" y2="2140" stroke-width="3.5"/>
<line x1="1430" y1="2140" x2="1434" y2="2961" stroke-width="3.5"/>
<line x1="1995" y1="2139" x2="2000" y2="2967" stroke-width="3.5"/>
<path d="M1477,2146 C1496.0,2147.2 1552.3,2153.0 1591,2153 C1629.7,2153.0 1689.3,2147.2 1709,2146" stroke-width="9" fill="none" />
<polyline points="1707,2146 1725,2128 1759,2143" stroke-width="6" fill="none"/>
<polyline points="1759,2144 1975,2112" stroke-width="10" fill="none"/>
<path d="M1974,2112 C1973.5,2120.0 1971.7,2143.7 1971,2160 C1970.3,2176.3 1970.2,2191.7 1970,2210 C1969.8,2228.3 1969.7,2251.3 1970,2270 C1970.3,2288.7 1971.2,2302.8 1972,2322 C1972.8,2341.2 1973.7,2363.8 1975,2385 C1976.3,2406.2 1978.2,2429.8 1980,2449 C1981.8,2468.2 1983.7,2484.0 1986,2500 C1988.3,2516.0 1991.0,2531.7 1994,2545 C1997.0,2558.3 2000.0,2568.7 2004,2580 C2008.0,2591.3 2011.5,2601.8 2018,2613 C2024.5,2624.2 2031.3,2632.8 2043,2647 C2054.7,2661.2 2070.0,2681.0 2088,2698 C2106.0,2715.0 2134.0,2737.5 2151,2749 C2168.0,2760.5 2179.3,2762.7 2190,2767 C2200.7,2771.3 2206.7,2773.0 2215,2775 C2223.3,2777.0 2231.8,2778.2 2240,2779 C2248.2,2779.8 2260.0,2779.8 2264,2780" stroke-width="10" fill="none" />
<path d="M1482,2147 C1479.0,2153.5 1470.0,2172.2 1464,2186 C1458.0,2199.8 1450.2,2215.3 1446,2230 C1441.8,2244.7 1440.8,2257.8 1439,2274 C1437.2,2290.2 1435.8,2292.7 1435,2327 C1434.2,2361.3 1434.0,2417.8 1434,2480 C1434.0,2542.2 1434.8,2619.8 1435,2700 C1435.2,2780.2 1435.0,2917.5 1435,2961" stroke-width="10" fill="none" />
<polyline points="1707,2146 1727,2335 1762,2146" stroke-width="5" fill="none"/>
<line x1="1732" y1="2157" x2="1792.501621446349" y2="2210.3837836291314" stroke-width="4.5"/>
<polygon points="1800,2217 1779.0,2210.5 1786.8,2205.4 1791.0,2197.0" fill="#000" stroke="none"/>
<g transform="rotate(-20 1842 2232)"><text x="1800" y="2250" font-size="44" textLength="84" lengthAdjust="spacingAndGlyphs" font-family="Liberation Sans">3cm</text></g>
<line x1="1960" y1="2126" x2="2066" y2="2099" stroke-width="3"/>
<polygon points="2066,2099 2050.5,2111.2 2050.7,2102.9 2046.6,2095.7" fill="#000" stroke="none"/>
<line x1="1980" y1="2145" x2="2020" y2="2118" stroke-width="3"/>
<text x="2075" y="2115" font-size="46" textLength="96" lengthAdjust="spacingAndGlyphs" font-family="Liberation Sans">2cm</text>
<line x1="2027" y1="2247" x2="2028.7924897635762" y2="2151.998042530459" stroke-width="4.5"/>
<polygon points="2029,2141 2038.6,2163.2 2028.6,2160.4 2018.6,2162.8" fill="#000" stroke="none"/>
<g transform="rotate(-90 2029 2336)"><text x="1965.5" y="2350.52" font-size="44" textLength="127" lengthAdjust="spacingAndGlyphs" font-family="Liberation Sans">19cm</text></g>
<line x1="2022" y1="2437" x2="2019.297188774827" y2="2537.0040153313985" stroke-width="4.5"/>
<polygon points="2019,2548 2009.6,2525.7 2019.5,2528.6 2029.6,2526.3" fill="#000" stroke="none"/>
<line x1="1435" y1="2551" x2="1998" y2="2554" stroke-width="3"/>
<line x1="1435" y1="2776" x2="2264" y2="2777" stroke-width="3.5"/>
<text x="1493" y="2547" font-size="50" textLength="387" lengthAdjust="spacingAndGlyphs" font-family="Liberation Sans">linha do quadril</text>
<line x1="1664" y1="2740" x2="1458.9816937410628" y2="2751.337417857637" stroke-width="4.5"/>
<polygon points="1447,2752 1470.4,2739.7 1468.1,2750.8 1471.6,2761.7" fill="#000" stroke="none"/>
<text x="1694" y="2761" font-size="48" textLength="121" lengthAdjust="spacingAndGlyphs" font-family="Liberation Sans">34cm</text>
<line x1="1858" y1="2743" x2="2247.000361980871" y2="2745.9029877759767" stroke-width="4.5"/>
<polygon points="2260,2746 2233.9,2757.8 2237.1,2745.8 2234.1,2733.8" fill="#000" stroke="none"/>
<line x1="1383" y1="2329" x2="1383.0" y2="2148.0" stroke-width="4.5"/>
<polygon points="1383,2136 1394.0,2160.0 1383.0,2157.1 1372.0,2160.0" fill="#000" stroke="none"/>
<g transform="rotate(-90 1358 2486)"><text x="1284.0" y="2500.52" font-size="44" textLength="148" lengthAdjust="spacingAndGlyphs" font-family="Liberation Sans">26 cm</text></g>
<line x1="1376" y1="2591" x2="1384.3912933781185" y2="2770.014258733192" stroke-width="4.5"/>
<polygon points="1385,2783 1372.8,2757.5 1383.9,2760.1 1394.8,2756.5" fill="#000" stroke="none"/>
<path d="M1325,2160 C1323.8,2183.3 1320.3,2240.0 1318,2300 C1315.7,2360.0 1312.2,2483.3 1311,2520" stroke-width="3.5" fill="none" />
<polygon points="1326,2143 1336.6,2167.2 1325.6,2164.1 1314.6,2166.8" fill="#000" stroke="none"/>
<g transform="rotate(-90 1312 2606)"><text x="1234.5" y="2621.84" font-size="48" textLength="155" lengthAdjust="spacingAndGlyphs" font-family="Liberation Sans">33 cm</text></g>
<path d="M1311,2709 C1311.0,2732.5 1311.0,2810.7 1311,2850 C1311.0,2889.3 1311.0,2929.2 1311,2945" stroke-width="3.5" fill="none" />
<polygon points="1311,2970 1301.0,2944.0 1311.0,2947.1 1321.0,2944.0" fill="#000" stroke="none"/>
<path d="M2264,2781 C2261.7,2789.2 2254.3,2813.5 2250,2830 C2245.7,2846.5 2242.0,2864.2 2238,2880 C2234.0,2895.8 2230.2,2910.0 2226,2925 C2221.8,2940.0 2215.2,2962.5 2213,2970" stroke-width="10" fill="none" />
<line x1="1435" y1="2962" x2="2212" y2="2971" stroke-width="10" stroke-linecap="square"/>
<text x="1589" y="2903" font-size="52" textLength="180" lengthAdjust="spacingAndGlyphs" font-family="Liberation Sans">costas</text>
<line x1="1685" y1="3023" x2="1449.9920418856561" y2="3014.436956991785" stroke-width="4.5"/>
<polygon points="1438,3014 1462.4,3003.9 1459.1,3014.8 1461.6,3025.9" fill="#000" stroke="none"/>
<text x="1704" y="3035" font-size="48" textLength="148" lengthAdjust="spacingAndGlyphs" font-family="Liberation Sans">32 cm</text>
<line x1="1976" y1="3040" x2="2198.014218377864" y2="3029.6078450972063" stroke-width="5"/>
<polygon points="2211,3029 2185.6,3042.2 2188.1,3030.1 2184.5,3018.2" fill="#000" stroke="none"/>
<line x1="2281" y1="2832" x2="2296.034364668386" y2="2798.9243977295514" stroke-width="4.5"/>
<polygon points="2301,2788 2301.1,2814.4 2292.3,2807.2 2281.1,2805.3" fill="#000" stroke="none"/>
<g transform="rotate(-72 2265 2884)"><text x="2228.0" y="2897.2" font-size="40" textLength="74" lengthAdjust="spacingAndGlyphs" font-family="Liberation Sans">7cm</text></g>
<line x1="2252" y1="2929" x2="2241.9642050967373" y2="2957.6736997236076" stroke-width="4.5"/>
<polygon points="2238,2969 2235.5,2942.7 2245.0,2949.1 2256.3,2950.0" fill="#000" stroke="none"/>
<g transform="translate(1140,1540) scale(0.2735)"><path d="M95,1585 L160,1650 L230,1730 L290,1800 L330,1860 L350,1920" vector-effect="non-scaling-stroke" stroke-width="3.2"/><path d="M125,1765 L200,1850 L280,1940 L360,2010 L440,2065" vector-effect="non-scaling-stroke" stroke-width="3.2"/><path d="M345,2045 C300,2035 245,2040 228,2080 C220,2120 260,2155 310,2160 C350,2160 350,2110 340,2060 C330,2010 300,1960 250,1890" vector-effect="non-scaling-stroke" stroke-width="3.2"/><path d="M300,1800 C320,1850 345,1895 370,1900 C395,1900 395,1860 380,1820 C360,1770 330,1740 300,1720" vector-effect="non-scaling-stroke" stroke-width="3.2"/><path d="M190,1430 L240,1490 L300,1560 L350,1630 L400,1710 L440,1760 L470,1795" vector-effect="non-scaling-stroke" stroke-width="3.2"/><path d="M200,1450 L260,1530 L330,1640 L380,1730" vector-effect="non-scaling-stroke" stroke-width="3.2"/><path d="M340,1640 C360,1700 400,1720 420,1700 C440,1680 430,1620 410,1590 L380,1550" vector-effect="non-scaling-stroke" stroke-width="3.2"/><path d="M400,1560 C420,1600 460,1640 480,1630 C495,1610 480,1560 460,1530" vector-effect="non-scaling-stroke" stroke-width="3.2"/><path d="M430,1400 C470,1410 490,1450 470,1480 C455,1495 440,1490 450,1470 L520,1480" vector-effect="non-scaling-stroke" stroke-width="3.2"/><path d="M360,840 L420,900 L480,960 L530,1030 L570,1100 L600,1200 L620,1300 L635,1420 L645,1600" vector-effect="non-scaling-stroke" stroke-width="3.2"/><path d="M390,1085 C430,1090 470,1110 510,1160 L560,1220 L600,1280 L640,1340" vector-effect="non-scaling-stroke" stroke-width="3.2"/><path d="M430,1130 L480,1170 L530,1220 L590,1290" vector-effect="non-scaling-stroke" stroke-width="3.2"/><path d="M620,1070 L650,1150 L675,1220" vector-effect="non-scaling-stroke" stroke-width="3.2"/><path d="M675,1220 L695,1150 L715,1080 L730,1000" vector-effect="non-scaling-stroke" stroke-width="3.2"/><path d="M650,1300 L700,1345 L750,1390" vector-effect="non-scaling-stroke" stroke-width="3.2"/><path d="M650,945 L690,1000 L730,1020" vector-effect="non-scaling-stroke" stroke-width="3.2"/><path d="M690,1000 L740,960 C770,930 800,890 820,850 C830,820 810,795 790,805 C770,820 775,855 810,850" vector-effect="non-scaling-stroke" stroke-width="3.2"/><path d="M810,850 C840,800 860,770 865,730 C868,700 855,685 840,672" vector-effect="non-scaling-stroke" stroke-width="3.2"/></g>
<circle cx="1355" cy="1698" r="3" fill="#000" stroke="none"/>
<circle cx="106" cy="2530" r="2.5" fill="#000" stroke="none"/>
<circle cx="119" cy="2559" r="2.5" fill="#000" stroke="none"/>
<circle cx="108" cy="2762" r="1.5" fill="#000" stroke="none"/>
<circle cx="119" cy="2794" r="1.5" fill="#000" stroke="none"/>
<circle cx="52" cy="3316" r="2" fill="#000" stroke="none"/>
<rect x="0" y="3484" width="10" height="23" fill="#000" stroke="none"/>
</g>
</svg>
</body></html>
